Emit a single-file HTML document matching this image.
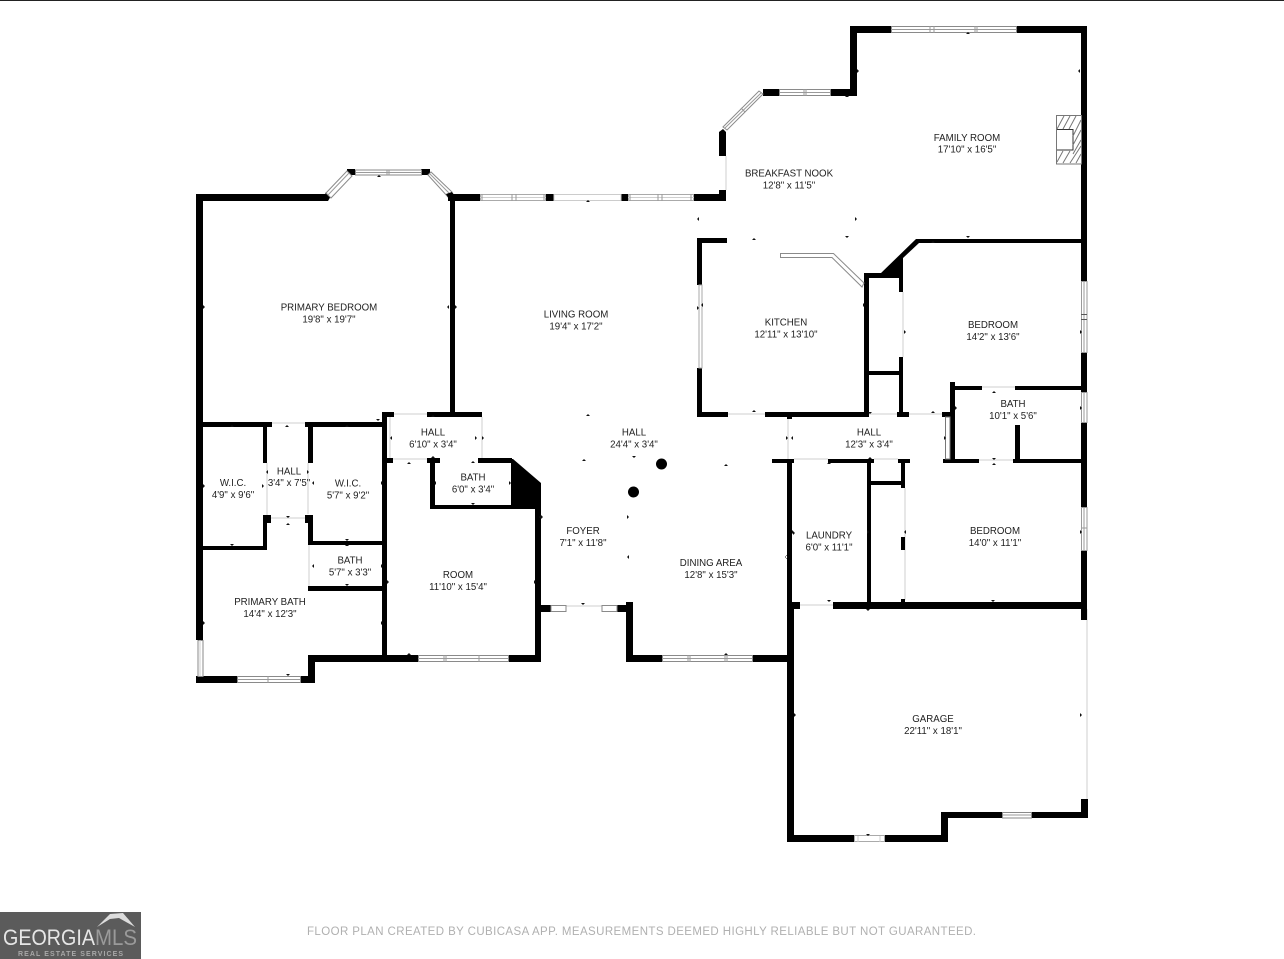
<!DOCTYPE html>
<html><head><meta charset="utf-8"><title>Floor plan</title>
<style>
html,body{margin:0;padding:0;background:#fff}
svg{display:block}
.t{font-family:"Liberation Sans",sans-serif;font-size:9.7px;fill:#222;text-anchor:middle}
.w{fill:#fff;stroke:#8a8a8a;stroke-width:1}
.l{stroke:#9a9a9a;stroke-width:1;fill:none}
.g{stroke:#cfcfcf;stroke-width:1;fill:none}
</style></head><body>
<svg width="1284" height="959" viewBox="0 0 1284 959" xmlns="http://www.w3.org/2000/svg">
<rect width="1284" height="959" fill="#fff"/>
<rect width="1284" height="1" fill="#222"/>

<!-- thin gray opening lines -->
<g class="g">
<path d="M726 156V190M394 414H427M272 423H305M267 518H308M267 463V515M308 463V514M390 417V458M393 459H427M482 417V458M309 545V586M728 414H765M869 414H897M909 414H942M788 419V459M794 459H828M874 459H898M979 460H1013M903 292V357M905 488V600M1087 609V800M982 387H1015M800 605H833M566 606H602"/>
</g>

<!-- walls -->
<g fill="#000">
<rect x="196" y="194" width="7" height="446"/>
<rect x="196" y="194" width="129" height="7"/>
<polygon points="322,201 326,192 331,196 328,201"/>
<rect x="347" y="169" width="8" height="6"/>
<rect x="421" y="169" width="9" height="6"/>
<rect x="448" y="194" width="32" height="7"/>
<rect x="546" y="194" width="8" height="7"/>
<rect x="621" y="194" width="7" height="7"/>
<rect x="450" y="194" width="5" height="220"/>
<rect x="694" y="194" width="32" height="7"/>
<rect x="719" y="190" width="7" height="11"/>
<polygon points="719,132 723,129 726,132 726,156 719,156"/>
<rect x="763" y="89" width="16" height="7"/>
<rect x="830" y="89" width="27" height="7"/>
<rect x="850" y="26" width="7" height="70"/>
<rect x="850" y="26" width="41" height="7"/>
<rect x="1016" y="26" width="71" height="7"/>
<rect x="1081" y="26" width="6" height="256"/>
<rect x="1081" y="352" width="6" height="40"/>
<rect x="1081" y="422" width="6" height="85"/>
<rect x="1081" y="550" width="6" height="70"/>

<!-- left bottom -->
<rect x="203" y="422" width="69" height="5"/>
<rect x="305" y="422" width="80" height="5"/>
<rect x="263" y="426" width="4" height="37"/>
<rect x="308" y="426" width="5" height="37"/>
<rect x="263" y="515" width="8" height="8"/>
<rect x="305" y="515" width="8" height="8"/>
<rect x="263" y="520" width="4" height="30"/>
<rect x="308" y="520" width="5" height="25"/>
<rect x="203" y="546" width="64" height="4"/>
<rect x="308" y="541" width="75" height="4"/>
<rect x="308" y="586" width="75" height="5"/>
<rect x="196" y="676" width="41" height="7"/>
<rect x="300" y="676" width="15" height="7"/>
<rect x="308" y="655" width="7" height="28"/>
<rect x="308" y="655" width="110" height="7"/>
<rect x="508" y="655" width="33" height="7"/>
<rect x="382" y="412" width="5" height="243"/>
<rect x="382" y="412" width="12" height="5"/>
<rect x="427" y="412" width="55" height="5"/>
<rect x="387" y="458" width="6" height="5"/>
<rect x="427" y="458" width="13" height="5"/>
<rect x="478" y="458" width="34" height="5"/>
<rect x="430" y="460" width="5" height="49"/>
<rect x="430" y="505" width="110" height="4"/>
<polygon points="511,459 513,459 541,483 541,509 511,509"/>
<rect x="535" y="483" width="6" height="179"/>

<!-- foyer / dining -->
<rect x="540" y="605" width="11" height="7"/>
<rect x="617" y="605" width="16" height="7"/>
<rect x="626" y="602" width="7" height="60"/>
<rect x="626" y="655" width="36" height="7"/>
<rect x="752" y="655" width="38" height="7"/>
<rect x="787" y="412" width="5" height="7" />
<rect x="787" y="459" width="5" height="144"/>
<rect x="772" y="459" width="22" height="4"/>

<!-- garage -->
<rect x="787" y="603" width="7" height="239"/>
<rect x="787" y="602" width="13" height="7"/>
<rect x="833" y="602" width="254" height="7"/>
<rect x="787" y="835" width="67" height="7"/>
<rect x="884" y="835" width="64" height="7"/>
<rect x="941" y="812" width="7" height="30"/>
<rect x="941" y="812" width="61" height="6"/>
<rect x="1031" y="812" width="57" height="6"/>
<rect x="1081" y="799" width="7" height="19"/>

<!-- kitchen -->
<rect x="697" y="238" width="30" height="5"/>
<rect x="697" y="238" width="5" height="47"/>
<rect x="697" y="368" width="5" height="49"/>
<rect x="697" y="412" width="31" height="5"/>
<rect x="765" y="412" width="100" height="5"/>
<rect x="864" y="273" width="5" height="144"/>
<rect x="864" y="273" width="20" height="5"/>
<polygon points="880,274 916,239 1081,239 1081,243 919,243 903,258 903,278 880,278"/>
<rect x="899" y="270" width="4" height="22"/>
<rect x="899" y="357" width="4" height="57"/>
<rect x="869" y="371" width="30" height="4"/>
<rect x="897" y="412" width="12" height="5"/>
<rect x="942" y="412" width="11" height="5"/>

<!-- bath / bedrooms right -->
<rect x="950" y="382" width="5" height="81"/>
<rect x="955" y="386" width="27" height="4"/>
<rect x="1015" y="386" width="66" height="4"/>
<rect x="1015" y="425" width="5" height="38"/>
<rect x="943" y="459" width="36" height="4"/>
<rect x="1013" y="459" width="68" height="4"/>
<rect x="828" y="459" width="46" height="4"/>
<rect x="898" y="459" width="12" height="4"/>
<rect x="867" y="463" width="4" height="142"/>
<rect x="871" y="481" width="34" height="4"/>
<rect x="901" y="463" width="4" height="25"/>
<rect x="901" y="537" width="4" height="13"/>
<rect x="901" y="599" width="4" height="4"/>

<!-- columns -->
<circle cx="661.5" cy="464" r="5.5"/>
<circle cx="633.5" cy="492" r="5.5"/>
</g>

<!-- windows -->
<g>
<rect class="w" x="355.5" y="170" width="66" height="5"/>
<path class="l" d="M387 170V175M389 170V175M356 172.5H421"/>
<polygon class="w" points="326,193 347,171 352,176 331,198"/>
<path class="l" d="M328 195L349 173"/>
<polygon class="w" points="428,175 431,172 452,192 448,197"/>
<path class="l" d="M430 174L450 194"/>
<polygon fill="#000" points="446,194 452,192 455,196 455,201 450,201"/>
<rect x="480.5" y="194.5" width="65" height="6" fill="#fff" stroke="#aaa"/>
<path class="g" d="M480 197.5H546"/>
<path class="l" d="M482 194V201M512 194V201M516 194V201M544 194V201"/>
<rect x="554" y="194.5" width="67" height="6" fill="#fff" stroke="#ccc"/>
<rect x="628.5" y="194.5" width="65" height="6" fill="#fff" stroke="#aaa"/>
<path class="g" d="M628 197.5H694"/>
<path class="l" d="M630 194V201M658 194V201M662 194V201M691 194V201"/>
<rect x="779.5" y="89.5" width="51" height="6" class="w"/>
<path class="l" d="M804 89V96M806 89V96M780 92.5H830"/>
<polygon class="w" points="763,94 727,130 723,127 759,91"/>
<path class="l" d="M761 93L725 128M745 112L741 108"/>
<rect x="891.5" y="26.5" width="125" height="6" class="w"/>
<path class="l" d="M930 26V33M934 26V33M975 26V33M977 26V33M891 29.5H1016"/>
<rect x="198" y="640.5" width="5" height="36" class="w"/>
<path class="g" d="M200 640V676"/>
<rect x="237.5" y="676.5" width="63" height="6" class="w"/>
<path class="l" d="M238 679.5H300M268 676V683"/>
<rect x="418.5" y="655.5" width="90" height="6" class="w"/>
<path class="l" d="M418 658.5H508M444 655V662M446 655V662M479 655V662"/>
<rect x="551" y="605.5" width="15" height="6" class="w"/>
<rect x="602" y="605.5" width="15" height="6" class="w"/>
<rect x="662.5" y="655.5" width="90" height="6" class="w"/>
<path class="l" d="M662 658.5H752M688 655V662M690 655V662M725 655V662M727 655V662"/>
<rect x="854.5" y="835.5" width="30" height="6" fill="#fff" stroke="#aaa"/>
<path class="g" d="M858 836V842M880 836V842"/>
<rect x="1002.5" y="812.5" width="29" height="5.5" class="w"/>
<path class="l" d="M1003 815H1031"/>
<rect x="699" y="285" width="3" height="83" fill="#fff" stroke="#aaa" stroke-width="1"/>
<rect x="1081.5" y="281.5" width="5.5" height="71" fill="#fff" stroke="#999"/>
<path class="l" d="M1084 282V352"/>
<path d="M1081 314.5H1087M1081 319.5H1087" stroke="#555" fill="none"/>
<rect x="1081.5" y="392.5" width="5.5" height="30" fill="#fff" stroke="#999"/>
<path class="l" d="M1084 393V422"/>
<rect x="1081.5" y="507.5" width="5.5" height="43" fill="#fff" stroke="#999"/>
<path class="l" d="M1081 528H1087M1084 508V550"/>
<rect x="945.5" y="417" width="4.5" height="42" fill="#fff" stroke="#777"/>
<polygon points="780.5,253.5 833.5,253.5 864,283 862,287 832,257.5 780.5,257.5" fill="#fff" stroke="#8a8a8a"/>
</g>

<!-- fireplace -->
<g fill="none" stroke="#777" stroke-width="1">
<rect x="1056.5" y="115.5" width="25" height="48.5"/>
<path d="M1057 129.5H1073V150H1057" stroke="#333"/>
<path d="M1057 129L1064 116M1063 129L1070 116M1069 129L1076 116M1073 136L1081 120M1073 145L1081 130M1073 154L1081 140M1057 162L1063 151M1063 163L1070 151M1070 163L1081 146M1076 163L1081 154"/>
</g>

<!-- ticks -->
<path fill="#111" d="M377 177h4l-2 -2zM230 427h4l-2 -2zM285 427h4l-2 -2zM345 427h4l-2 -2zM286 525h4l-2 -2zM345 546h4l-2 -2zM407 464h4l-2 -2zM431 417h4l-2 -2zM431 458h4l-2 -2zM471 463h4l-2 -2zM407 655h4l-2 -2zM582 461h4l-2 -2zM724 466h4l-2 -2zM724 655h4l-2 -2zM752 240h4l-2 -2zM845 97h4l-2 -2zM966 34h4l-2 -2zM931 243h4l-2 -2zM752 412h4l-2 -2zM931 413h4l-2 -2zM992 393h4l-2 -2zM827 464h4l-2 -2zM868 459h4l-2 -2zM992 465h4l-2 -2zM586 202h4l-2 -2zM586 416h4l-2 -2z"/>
<path fill="#111" d="M230 544h4l-2 2zM286 516h4l-2 2zM345 539h4l-2 2zM345 584h4l-2 2zM471 503h4l-2 2zM286 674h4l-2 2zM632 456h4l-2 2zM581 603h4l-2 2zM845 236h4l-2 2zM966 236h4l-2 2zM868 412h4l-2 2zM827 600h4l-2 2zM866 609h4l-2 2zM991 600h4l-2 2zM992 458h4l-2 2zM376 419h4l-2 2zM866 834h4l-2 2z"/>
<path fill="#111" d="M203 305v4l2 -2zM455 305v4l2 -2zM203 484v4l2 -2zM268 470v4l-2 -2zM314 481v4l-2 -2zM314 564v4l-2 -2zM203 621v4l2 -2zM387 580v4l2 -2zM541 515v4l2 -2zM541 515v4l-2 -2zM436 481v4l-2 -2zM392 436v4l-2 -2zM482 436v4l2 -2zM627 515v4l2 -2zM629 555v4l-2 -2zM857 69v4l2 -2zM699 217v4l-2 -2zM703 303v4l-2 -2zM904 330v4l2 -2zM955 406v4l2 -2zM793 436v4l-2 -2zM906 530v4l-2 -2zM792 530v4l2 -2zM794 713v4l2 -2zM793 531v4l2 -2zM541 515v4l-2 -2z"/>
<path fill="#111" d="M449 305v4l-2 -2zM262 484v4l2 -2zM307 470v4l2 -2zM381 481v4l2 -2zM381 564v4l2 -2zM381 621v4l2 -2zM534 580v4l2 -2zM509 481v4l2 -2zM475 436v4l2 -2zM786 555v4l2 -2zM1080 69v4l-2 -2zM855 217v4l2 -2zM863 303v4l2 -2zM1080 330v4l2 -2zM1080 406v4l2 -2zM786 436v4l2 -2zM944 436v4l2 -2zM1080 530v4l2 -2zM867 530v4l2 -2zM787 555v4l-2 -2zM1080 713v4l2 -2zM697 306v4l2 -2z"/>

<!-- labels -->
<g class="t">
<text class="t" x="329" y="310.5">PRIMARY BEDROOM</text><text class="t" x="329" y="322.5">19'8" x 19'7"</text>
<text class="t" x="576" y="317.5">LIVING ROOM</text><text class="t" x="576" y="329.5">19'4" x 17'2"</text>
<text class="t" x="634" y="435.5">HALL</text><text class="t" x="634" y="447.5">24'4" x 3'4"</text>
<text class="t" x="786" y="325.5">KITCHEN</text><text class="t" x="786" y="337.5">12'11" x 13'10"</text>
<text class="t" x="967" y="141">FAMILY ROOM</text><text class="t" x="967" y="152.5">17'10" x 16'5"</text>
<text class="t" x="789" y="176.5">BREAKFAST NOOK</text><text class="t" x="789" y="188.5">12'8" x 11'5"</text>
<text class="t" x="993" y="328">BEDROOM</text><text class="t" x="993" y="340">14'2" x 13'6"</text>
<text class="t" x="1013" y="407">BATH</text><text class="t" x="1013" y="419">10'1" x 5'6"</text>
<text class="t" x="869" y="435.5">HALL</text><text class="t" x="869" y="447.5">12'3" x 3'4"</text>
<text class="t" x="433" y="435.5">HALL</text><text class="t" x="433" y="447.5">6'10" x 3'4"</text>
<text class="t" x="473" y="480.5">BATH</text><text class="t" x="473" y="492.5">6'0" x 3'4"</text>
<text class="t" x="233" y="486">W.I.C.</text><text class="t" x="233" y="498">4'9" x 9'6"</text>
<text class="t" x="289" y="474.5">HALL</text><text class="t" x="289" y="486">3'4" x 7'5"</text>
<text class="t" x="348" y="486.5">W.I.C.</text><text class="t" x="348" y="498.5">5'7" x 9'2"</text>
<text class="t" x="350" y="563.5">BATH</text><text class="t" x="350" y="575.5">5'7" x 3'3"</text>
<text class="t" x="270" y="605">PRIMARY BATH</text><text class="t" x="270" y="617">14'4" x 12'3"</text>
<text class="t" x="458" y="578">ROOM</text><text class="t" x="458" y="590">11'10" x 15'4"</text>
<text class="t" x="583" y="534">FOYER</text><text class="t" x="583" y="546">7'1" x 11'8"</text>
<text class="t" x="711" y="566">DINING AREA</text><text class="t" x="711" y="578">12'8" x 15'3"</text>
<text class="t" x="829" y="538.5">LAUNDRY</text><text class="t" x="829" y="550.5">6'0" x 11'1"</text>
<text class="t" x="995" y="534">BEDROOM</text><text class="t" x="995" y="546">14'0" x 11'1"</text>
<text class="t" x="933" y="722">GARAGE</text><text class="t" x="933" y="734">22'11" x 18'1"</text>
</g>

<!-- footer -->
<text x="307" y="935" font-family="'Liberation Sans',sans-serif" font-size="11.5" fill="#b0b0b0" textLength="669" lengthAdjust="spacing">FLOOR PLAN CREATED BY CUBICASA APP. MEASUREMENTS DEEMED HIGHLY RELIABLE BUT NOT GUARANTEED.</text>

<!-- logo -->
<rect x="0" y="912" width="141" height="47" fill="#5b5b5b"/>
<polygon points="97,927 110,914 123,913 135,927 119,918 110,919" fill="#dcdcdc"/>
<text x="3" y="945" font-family="'Liberation Sans',sans-serif" font-size="22" fill="#e6e6e6" textLength="92" lengthAdjust="spacingAndGlyphs">GEORGIA</text>
<text x="95" y="945" font-family="'Liberation Sans',sans-serif" font-size="22" fill="#9a9a9a" textLength="42" lengthAdjust="spacingAndGlyphs">MLS</text>
<text x="18" y="956" font-family="'Liberation Sans',sans-serif" font-size="7" font-weight="bold" fill="#a8a8a8" textLength="105" lengthAdjust="spacing">REAL ESTATE SERVICES</text>
</svg>
</body></html>
